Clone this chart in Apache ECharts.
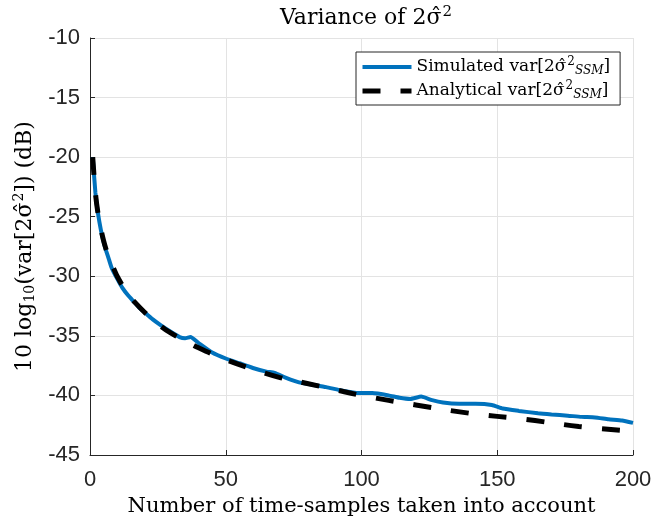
<!DOCTYPE html>
<html>
<head>
<meta charset="utf-8">
<script src="https://cdn.jsdelivr.net/npm/echarts@6/dist/echarts.min.js"></script>
<style>html,body{margin:0;padding:0;background:#fff;}#c{width:652px;height:526px;}</style>
</head>
<body>
<div id="c"></div>
<script>
// Simulated var[2σ̂²_SSM] (dB)
const simN = [1, 2, 3, 4, 5, 6, 7, 8, 10, 12, 14, 16, 18, 20, 23, 26, 30, 33, 35, 37, 40, 45, 50, 55, 60, 65, 68, 72, 77, 82, 87, 93, 99, 104, 110, 114, 118, 122, 126, 130, 136, 142, 148, 152, 158, 165, 170, 176, 181, 186, 191, 196, 200];
const simV = [-20.0, -23.0, -24.8, -26.1, -27.1, -27.9, -28.6, -29.3, -30.2, -31.0, -31.6, -32.1, -32.6, -33.0, -33.6, -34.1, -34.7, -35.1, -35.2, -35.1, -35.6, -36.4, -36.9, -37.3, -37.7, -38.0, -38.1, -38.5, -38.9, -39.1, -39.3, -39.6, -39.8, -39.8, -40.0, -40.2, -40.3, -40.1, -40.4, -40.6, -40.7, -40.7, -40.8, -41.1, -41.3, -41.5, -41.6, -41.7, -41.8, -41.85, -42.0, -42.1, -42.3];
// Analytical var[2σ̂²_SSM] (dB)
const anaN = [1, 2, 3, 4, 5, 6, 7, 8, 9, 10, 12, 14, 17, 20, 25, 30, 35, 40, 50, 60, 70, 80, 90, 100, 120, 140, 160, 180, 200];
const anaV = [-20.0, -23.0, -24.8, -26.0, -27.0, -27.8, -28.5, -29.0, -29.5, -30.0, -30.8, -31.5, -32.3, -33.0, -34.0, -34.8, -35.4, -36.0, -37.0, -37.8, -38.5, -39.0, -39.5, -40.0, -40.8, -41.5, -42.0, -42.6, -43.0];
const xTicks = [0, 50, 100, 150, 200];
const yTicks = [-45, -40, -35, -30, -25, -20, -15, -10];

const SERIF = '"DejaVu Serif", "Liberation Serif", serif';
const SANS = '"Liberation Sans", Arial, sans-serif';
const AX = '#262626';

const chart = echarts.init(document.getElementById('c'), null, {renderer: 'canvas'});
chart.setOption({
  animation: false,
  backgroundColor: '#fff',
  title: {
    text: '{t|Variance of 2σ̂}{sup|2}',
    left: 361, top: 0, textAlign: 'center',
    textStyle: {fontWeight: 'normal', rich: {
      t: {fontFamily: SERIF, fontSize: 22, color: '#000', fontWeight: 'normal'},
      sup: {fontFamily: SERIF, fontSize: 15, color: '#000', fontWeight: 'normal', padding: [0, 0, 12, 1]}
    }}
  },
  grid: {left: 90, right: 19, top: 38, bottom: 71, containLabel: false, outerBoundsMode: 'none'},
  legend: {
    orient: 'vertical',
    left: 356, top: 52,
    padding: [4, 10, 4, 4],
    itemGap: 3,
    itemWidth: 49, itemHeight: 14,
    backgroundColor: '#fff',
    borderColor: AX, borderWidth: 1, borderRadius: 0,
    itemStyle: {opacity: 0},
    lineStyle: {width: 'inherit'},
    data: ['Simulated', 'Analytical'],
    formatter: function (name) {
      return '{t|' + name + ' var[2σ̂}{sup|2}{sub|SSM}{t|]}';
    },
    textStyle: {rich: {
      t: {fontFamily: SERIF, fontSize: 17, color: '#000'},
      sup: {fontFamily: SERIF, fontSize: 12, color: '#000', padding: [0, 0, 10, 1]},
      sub: {fontFamily: SERIF, fontSize: 12, color: '#000', fontStyle: 'italic', padding: [8, 0, 0, 0]}
    }}
  },
  xAxis: {
    type: 'value', min: xTicks[0], max: xTicks[xTicks.length - 1], interval: 50,
    name: 'Number of time-samples taken into account',
    nameLocation: 'middle', nameGap: 40,
    nameTextStyle: {fontFamily: SERIF, fontSize: 21, color: '#000'},
    axisLine: {show: true, lineStyle: {color: AX, width: 1}},
    axisTick: {show: true, inside: true, length: 5, lineStyle: {color: AX}},
    axisLabel: {fontFamily: SANS, fontSize: 22, color: AX, margin: 14},
    splitLine: {show: true, lineStyle: {color: '#e3e3e3', width: 1}}
  },
  yAxis: {
    type: 'value', min: yTicks[0], max: yTicks[yTicks.length - 1], interval: 5,
    name: '{t|10 log}{sub|10}{t|(var[2σ̂}{sup|2}{t|]) (dB)}',
    nameLocation: 'middle', nameGap: 49, nameRotate: 90,
    nameTextStyle: {rich: {
      t: {fontFamily: SERIF, fontSize: 22, color: '#000'},
      sup: {fontFamily: SERIF, fontSize: 14, color: '#000', padding: [0, 0, 12, 1]},
      sub: {fontFamily: SERIF, fontSize: 14, color: '#000', padding: [10, 0, 0, 0]}
    }},
    axisLine: {show: true, lineStyle: {color: AX, width: 1}},
    axisTick: {show: true, inside: true, length: 5, lineStyle: {color: AX}},
    axisLabel: {fontFamily: SANS, fontSize: 22, color: AX, margin: 10},
    splitLine: {show: true, lineStyle: {color: '#e3e3e3', width: 1}}
  },
  series: [
    {
      name: 'Simulated', type: 'line', showSymbol: false, symbol: 'none', smooth: 0.15,
      data: simN.map((n, i) => [n, simV[i]]),
      lineStyle: {color: '#0072BD', width: 4},
      itemStyle: {color: '#0072BD'},
      z: 2
    },
    {
      name: 'Analytical', type: 'line', showSymbol: false, symbol: 'none', smooth: 0.4,
      data: anaN.map((n, i) => [n, anaV[i]]),
      lineStyle: {color: '#000', width: 5, type: [18, 20]},
      itemStyle: {color: '#000'},
      z: 3
    }
  ]
});
</script>
</body>
</html>
